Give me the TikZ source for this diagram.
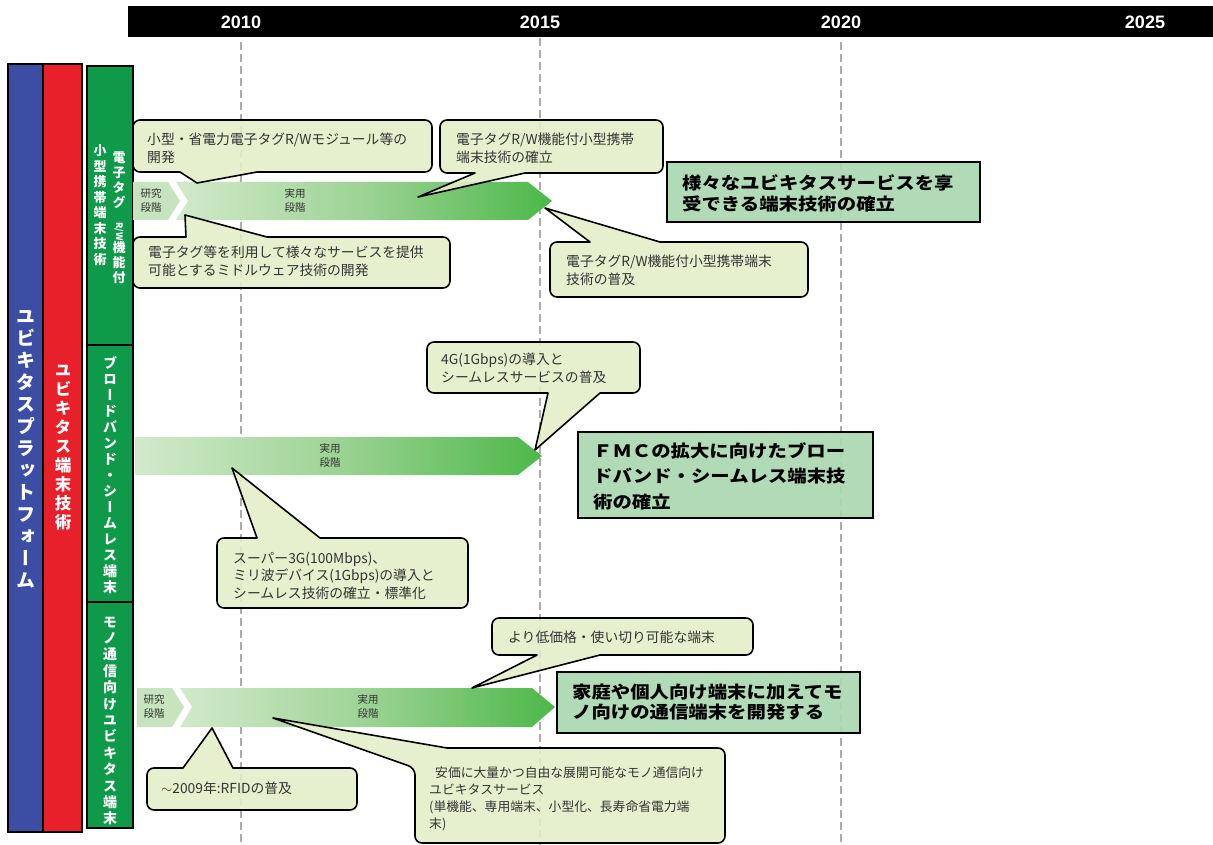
\documentclass[tikz,border=0pt]{standalone}
\usepackage{fontspec}
\usepackage{graphicx}
\setmainfont{Noto Sans CJK JP}
\newfontfamily\jp{Noto Sans CJK JP}
\newfontfamily\jpbox[FakeStretch=1.14]{Noto Sans CJK JP}
\newfontfamily\vjp[RawFeature=+vert]{Noto Sans CJK JP}
\newfontfamily\yearfont{Liberation Sans}
\definecolor{pblue}{HTML}{3B4EA3}
\definecolor{pred}{HTML}{E8202A}
\definecolor{pgreen}{HTML}{0E9A48}
\definecolor{calfill}{HTML}{E4EFC8}
\definecolor{goalfill}{HTML}{AAD8B0}
\definecolor{textgray}{HTML}{333333}
\definecolor{arrlight}{HTML}{D2EACB}
\definecolor{arrmid}{HTML}{9CD394}
\definecolor{arrdark}{HTML}{4CB848}
\definecolor{chevfill}{HTML}{C6E4BE}
\definecolor{dashgray}{HTML}{ABABAB}
% vertical stacking of characters
\def\vstA#1{#1\vstB}
\def\vstB#1{\ifx#1\vstEnd\else\\#1\expandafter\vstB\fi}
\newcommand\vtext[1]{\vstA#1\vstEnd}
% callout with pointer on bottom edge: x1,y1,x2,y2,b1,b2,tip
\newcommand\calB[7]{\path[callout] ({(#1+#3)/2},#2) [rounded corners=7pt] -- (#3,#2) -- (#3,#4) [sharp corners] -- (#6,#4) -- #7 -- (#5,#4) [rounded corners=7pt] -- (#1,#4) -- (#1,#2) -- cycle;}
% callout with pointer on top edge
\newcommand\calT[7]{\path[callout] ({(#1+#3)/2},#4) [rounded corners=7pt] -- (#1,#4) -- (#1,#2) [sharp corners] -- (#5,#2) -- #7 -- (#6,#2) [rounded corners=7pt] -- (#3,#2) -- (#3,#4) -- cycle;}
\begin{document}
\begin{tikzpicture}[x=1pt,y=-1pt,
  callout/.style={draw=black, line width=1.6pt, fill=calfill, fill opacity=0.88, line join=round},
  caltext/.style={font=\jp\fontsize{13.8}{17.5}\selectfont, text=textgray, align=left, inner sep=0pt},
  goalbox/.style={draw=black, line width=1.8pt, fill=goalfill, fill opacity=0.92},
  goaltext/.style={font=\jpbox\bfseries\fontsize{17}{#1}\selectfont, align=left, anchor=north west, inner sep=0pt},
  yeartext/.style={font=\yearfont\bfseries\fontsize{18}{20}\selectfont, text=white, inner sep=0pt},
  dashline/.style={draw=dashgray, line width=2.8pt, dash pattern=on 8pt off 4pt},
  barbox/.style={draw=black, line width=1.6pt},
  vlabel/.style={text=white, align=center, inner sep=0pt},
  arrtext/.style={font=\jp\fontsize{10.5}{14}\selectfont, text=textgray, align=center, inner sep=0pt},
  mainarrow/.style={left color=arrlight, right color=arrdark, middle color=arrmid, draw=none},
  chevron/.style={fill=chevfill, draw=none}
]
\useasboundingbox (0,0) rectangle (1213,845);
\fill[white] (0,0) rectangle (1213,845);

% ---------- time axis ----------
\fill[black] (128,6) rectangle (1213,37);
\node[yeartext] (y2010) at (241,22) {2010};
\node[yeartext] (y2015) at (540,22) {2015};
\node[yeartext] (y2020) at (841,22) {2020};
\node[yeartext] (y2025) at (1145,22) {2025};
\draw[dashline] (241,42) -- (241,845);
\draw[dashline] (540,38) -- (540,845);
\draw[dashline] (841,42) -- (841,845);

% ---------- left category bars ----------
\path[barbox, fill=pblue] (8,64) rectangle (43,832);
\path[barbox, fill=pred] (43,64) rectangle (82,832);
\path[barbox, fill=pgreen] (87,66) rectangle (133,345);
\path[barbox, fill=pgreen] (87,345) rectangle (133,602);
\path[barbox, fill=pgreen] (87,602) rectangle (133,828);

\node[vlabel, font=\vjp\bfseries\fontsize{19}{22}\selectfont] (lblue) at (26,449) {\vtext{ユビキタスプラットフォーム}};
\node[vlabel, font=\vjp\bfseries\fontsize{16.5}{19}\selectfont] (lred) at (63,448) {\vtext{ユビキタス端末技術}};
\node[vlabel, font=\vjp\bfseries\fontsize{13}{15}\selectfont] (lg1a) at (119,218) {電\\子\\タ\\グ\\\rotatebox{-90}{\fontsize{9}{9}\selectfont R/W}\\機\\能\\付};
\node[vlabel, font=\vjp\bfseries\fontsize{13}{15.5}\selectfont] (lg1b) at (100,205) {\vtext{小型携帯端末技術}};
\node[vlabel, font=\vjp\bfseries\fontsize{14}{16}\selectfont] (lg2) at (110,475) {\vtext{ブロードバンド・シームレス端末}};
\node[vlabel, font=\vjp\bfseries\fontsize{14}{16.4}\selectfont] (lg3) at (110,721) {\vtext{モノ通信向けユビキタス端末}};

% ---------- row 1 ----------
\path[chevron] (133,182) -- (168,182) -- (180,201) -- (168,220) -- (133,220) -- cycle;
\path[mainarrow] (176,182) -- (528,182) -- (552,201) -- (528,220) -- (176,220) -- (188,201) -- cycle;
\node[arrtext] (r1a) at (151,201) {研究\\段階};
\node[arrtext] (r1b) at (295,201) {実用\\段階};

\calB{133}{120}{432}{172}{180}{257}{(197,183)}
\node[caltext, anchor=north west] (c1) at (147,133) {小型・省電力電子タグR/Wモジュール等の\\開発};
\calB{440}{120}{663}{173}{475}{525}{(418,197)}
\node[caltext, anchor=north west] (c2) at (456,133) {電子タグR/W機能付小型携帯\\端末技術の確立};
\calT{133}{237}{450}{288}{186}{267}{(185,215)}
\node[caltext, anchor=north west] (c3) at (148,246) {電子タグ等を利用して様々なサービスを提供\\可能とするミドルウェア技術の開発};
\calT{550}{242}{808}{297}{590}{660}{(545,208)}
\node[caltext, anchor=north west] (c4) at (566,255) {電子タグR/W機能付小型携帯端末\\技術の普及};

\path[goalbox] (667,162) rectangle (980,222);
\node[goaltext=21.5] (g1) at (682,174) {様々なユビキタスサービスを享\\受できる端末技術の確立};

% ---------- row 2 ----------
\path[mainarrow] (135,437) -- (518,437) -- (542,456) -- (518,475) -- (135,475) -- cycle;
\node[arrtext] (r2b) at (330,456) {実用\\段階};

\calB{427}{342}{640}{393}{548}{600}{(535,450)}
\node[caltext, anchor=north west] (c5) at (441,353) {4G(1Gbps)の導入と\\シームレスサービスの普及};
\calT{217}{538}{468}{608}{257}{320}{(232,468)}
\node[caltext, anchor=north west] (c6) at (233,552) {スーパー3G(100Mbps)、\\ミリ波デバイス(1Gbps)の導入と\\シームレス技術の確立・標準化};

\path[goalbox] (578,432) rectangle (873,518);
\node[goaltext=25.5] (g2) at (593,442) {ＦＭＣの拡大に向けたブロー\\ドバンド・シームレス端末技\\術の確立};

% ---------- row 3 ----------
\path[chevron] (137,688) -- (172,688) -- (184,707) -- (172,727) -- (137,727) -- cycle;
\path[mainarrow] (180,688) -- (532,688) -- (555,707) -- (532,727) -- (180,727) -- (192,707) -- cycle;
\node[arrtext] (r3a) at (154,707) {研究\\段階};
\node[arrtext] (r3b) at (368,707) {実用\\段階};

\calB{492}{618}{753}{655}{537}{600}{(472,688)}
\node[caltext, anchor=west] (c7) at (508,637) {より低価格・使い切り可能な端末};
\calT{147}{768}{357}{810}{183}{233}{(212,728)}
\node[caltext, anchor=west] (c8) at (161,788) {$\sim$2009年:RFIDの普及};
\path[callout] (570,843) [rounded corners=7pt] -- (415,843) -- (415,768) [sharp corners] -- (273,718) -- (447,748) [rounded corners=7pt] -- (725,748) -- (725,843) -- cycle;
\node[caltext, anchor=north west, font=\jp\fontsize{12.8}{17}\selectfont] (c9) at (429,767) {\hspace*{6pt}安価に大量かつ自由な展開可能なモノ通信向け\\ユビキタスサービス\\(単機能、専用端末、小型化、長寿命省電力端\\末)};

\path[goalbox] (557,672) rectangle (860,733);
\node[goaltext=19.5] (g3) at (572,684) {家庭や個人向け端末に加えてモ\\ノ向けの通信端末を開発する};
\end{tikzpicture}
\end{document}
